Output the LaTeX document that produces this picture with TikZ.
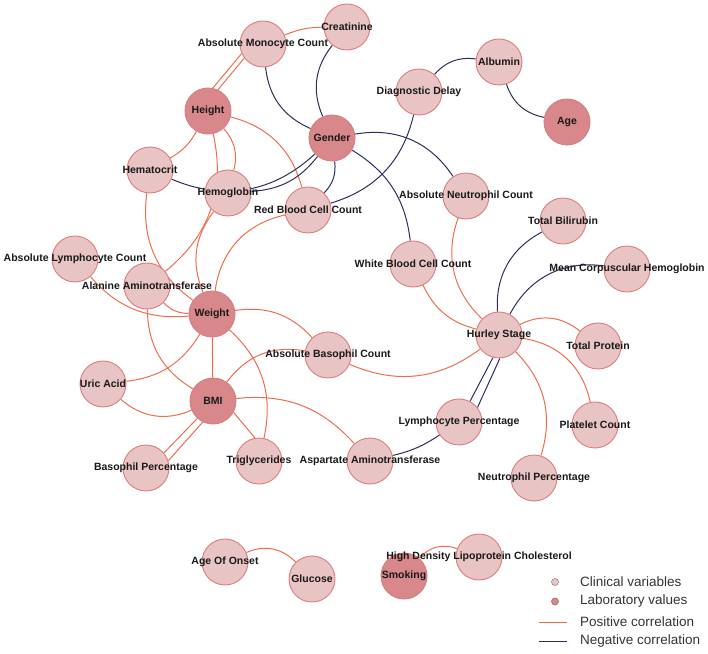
\documentclass[tikz,border=0pt]{standalone}
\usepackage{fontspec}
\setmainfont{Liberation Sans}
\usetikzlibrary{backgrounds}
\definecolor{clinfill}{HTML}{E8C4C5}
\definecolor{clinline}{HTML}{DF7B7B}
\definecolor{labfill}{HTML}{D8878A}
\definecolor{labline}{HTML}{D47D80}
\definecolor{poscol}{HTML}{EF6D4E}
\definecolor{negcol}{HTML}{2C2E5E}
\definecolor{legline}{HTML}{9A8A8A}
\tikzset{
  clin/.style={circle, fill=clinfill, draw=clinline, line width=0.9pt, minimum size=46pt, inner sep=0pt},
  labv/.style={circle, fill=labfill, draw=labline, line width=0.9pt, minimum size=46pt, inner sep=0pt},
  txt/.style={font=\bfseries\fontsize{10.5}{12}\selectfont, text=black!90, inner sep=0pt},
  posedge/.style={draw=poscol, line width=1pt},
  negedge/.style={draw=negcol, line width=1pt},
  legtxt/.style={font=\fontsize{13.5}{15}\selectfont, text=black!80, anchor=west, inner sep=0pt},
  legdot/.style={circle, minimum size=7pt, inner sep=0pt, line width=0.6pt},
}
\begin{document}
\begin{tikzpicture}[x=1pt,y=1pt]
\useasboundingbox (0,0) rectangle (708,653);
% circles
\node[clin] (Creatinine) at (347,626) {};
\node[clin] (AMC) at (263,609) {};
\node[labv] (Height) at (208,542) {};
\node[labv] (Gender) at (332,515) {};
\node[clin] (Hematocrit) at (150,483) {};
\node[clin] (Hemoglobin) at (228,460) {};
\node[clin] (RBC) at (308,443) {};
\node[clin] (DD) at (419,561) {};
\node[clin] (Albumin) at (499,591) {};
\node[labv] (Age) at (567,531) {};
\node[clin] (ANC) at (466,457) {};
\node[clin] (TB) at (563,432) {};
\node[clin] (MCH) at (627,384) {};
\node[clin] (WBC) at (413,389) {};
\node[clin] (Hurley) at (499,318) {};
\node[clin] (TP) at (598,307) {};
\node[clin] (Platelet) at (595,228) {};
\node[clin] (LP) at (459,231) {};
\node[clin] (NP) at (534,175) {};
\node[clin] (AST) at (370,192) {};
\node[clin] (ALC) at (75,394) {};
\node[clin] (Alanine) at (147,367) {};
\node[labv] (Weight) at (212,339) {};
\node[clin] (ABC) at (328,298) {};
\node[clin] (Uric) at (103,269) {};
\node[labv] (BMI) at (213,252) {};
\node[clin] (BP) at (146,185) {};
\node[clin] (Trig) at (259,192) {};
\node[clin] (AgeOnset) at (225,91) {};
\node[clin] (Glucose) at (312,74) {};
\node[labv] (Smoking) at (404,77) {};
\node[clin] (HDL) at (479,96) {};
% labels
\node[txt] at (Creatinine) {Creatinine};
\node[txt] at (AMC) {Absolute Monocyte Count};
\node[txt] at (Height) {Height};
\node[txt] at (Gender) {Gender};
\node[txt] at (Hematocrit) {Hematocrit};
\node[txt] at (Hemoglobin) {Hemoglobin};
\node[txt] at (RBC) {Red Blood Cell Count};
\node[txt] at (DD) {Diagnostic Delay};
\node[txt] at (Albumin) {Albumin};
\node[txt] at (Age) {Age};
\node[txt] at (ANC) {Absolute Neutrophil Count};
\node[txt] at (TB) {Total Bilirubin};
\node[txt] at (MCH) {Mean Corpuscular Hemoglobin};
\node[txt] at (WBC) {White Blood Cell Count};
\node[txt] at (Hurley) {Hurley Stage};
\node[txt] at (TP) {Total Protein};
\node[txt] at (Platelet) {Platelet Count};
\node[txt] at (LP) {Lymphocyte Percentage};
\node[txt] at (NP) {Neutrophil Percentage};
\node[txt] at (AST) {Aspartate Aminotransferase};
\node[txt] at (ALC) {Absolute Lymphocyte Count};
\node[txt] at (Alanine) {Alanine Aminotransferase};
\node[txt] at (Weight) {Weight};
\node[txt] at (ABC) {Absolute Basophil Count};
\node[txt] at (Uric) {Uric Acid};
\node[txt] at (BMI) {BMI};
\node[txt] at (BP) {Basophil Percentage};
\node[txt] at (Trig) {Triglycerides};
\node[txt] at (AgeOnset) {Age Of Onset};
\node[txt] at (Glucose) {Glucose};
\node[txt] at (Smoking) {Smoking};
\node[txt] at (HDL) {High Density Lipoprotein Cholesterol};
% edges
\begin{pgfonlayer}{background}
\draw[posedge] (AMC) to[bend left=11] (Creatinine);
\draw[negedge] (Creatinine) to[bend right=31] (Gender);
\draw[negedge] (AMC) to[bend right=30] (Gender);
\draw[posedge] (AMC.204) -- (Height.78);
\draw[posedge] (AMC.217) -- (Height.65);
\draw[posedge] (Height) to[bend left=15] (Hematocrit);
\draw[posedge] (Height) to[bend left=28] (Hemoglobin);
\draw[posedge] (Height) to[bend left=32] (Alanine);
\draw[posedge] (Hemoglobin) to[bend right=30] (Weight);
\draw[posedge] (Height) to[bend left=30] (RBC);
\draw[negedge] (Hematocrit) to[bend right=33] (Gender);
\draw[negedge] (Gender) to[bend left=24] (Hemoglobin);
\draw[negedge] (Gender) to[bend left=25] (RBC);
\draw[negedge] (DD) to[bend left=30] (RBC);
\draw[negedge] (DD) to[bend left=28] (Albumin);
\draw[negedge] (Albumin) to[bend right=30] (Age);
\draw[negedge] (Gender) to[bend left=33] (ANC);
\draw[negedge] (Gender) to[bend left=26] (WBC);
\draw[posedge] (ANC) to[bend right=33] (Hurley);
\draw[posedge] (WBC) to[bend right=25] (Hurley);
\draw[negedge] (TB) to[bend right=33] (Hurley);
\draw[negedge] (MCH) to[bend right=35] (Hurley);
\draw[posedge] (TP) to[bend right=33] (Hurley);
\draw[posedge] (Platelet) to[bend right=35] (Hurley);
\draw[posedge] (NP) to[bend right=31] (Hurley);
\draw[negedge] (LP.62) -- (Hurley.255);
\draw[negedge] (LP.38) -- (Hurley.272);
\draw[negedge] (AST) to[bend right=10] (LP);
\draw[posedge] (ABC) to[bend right=30] (Hurley);
\draw[posedge] (ALC) to[bend right=27] (Weight);
\draw[posedge] (Alanine) to[bend right=22] (Weight);
\draw[posedge] (Alanine) to[bend right=29] (BMI);
\draw[posedge] (BMI.331) -- (Trig.100);
\draw[posedge] (Hematocrit) to[bend right=31] (Weight);
\draw[posedge] (Weight) to[bend left=35] (RBC);
\draw[posedge] (Weight) to[bend left=26] (Uric);
\draw[posedge] (Weight) -- (BMI);
\draw[posedge] (Weight) to[bend left=30] (Trig);
\draw[posedge] (Weight) to[bend left=28] (ABC);
\draw[posedge] (BMI) to[bend left=32] (ABC);
\draw[posedge] (BMI) to[bend left=32] (Uric);
\draw[posedge] (BMI) to[bend left=27] (AST);
\draw[posedge] (BMI.228) -- (BP.40);
\draw[posedge] (BMI.244) -- (BP.18);
\draw[posedge] (AgeOnset) to[bend left=35] (Glucose);
\draw[posedge] (Smoking) to[bend left=35] (HDL);
\end{pgfonlayer}
% legend
\node[legdot, fill=clinfill, draw=legline] (k1) at (555,71) {};
\node[legdot, fill=labfill, draw=labline!80!black] (k2) at (555,51.5) {};
\coordinate (p1) at (539,31);
\coordinate (p2) at (567,31);
\coordinate (n1) at (539,12);
\coordinate (n2) at (567,12);
\draw[posedge] (p1) -- (p2);
\draw[negedge] (n1) -- (n2);
\node[legtxt] at (580,71) {Clinical variables};
\node[legtxt] at (580,51.5) {Laboratory values};
\node[legtxt] at (580,31) {Positive correlation};
\node[legtxt] at (580,12) {Negative correlation};
\end{tikzpicture}
\end{document}
